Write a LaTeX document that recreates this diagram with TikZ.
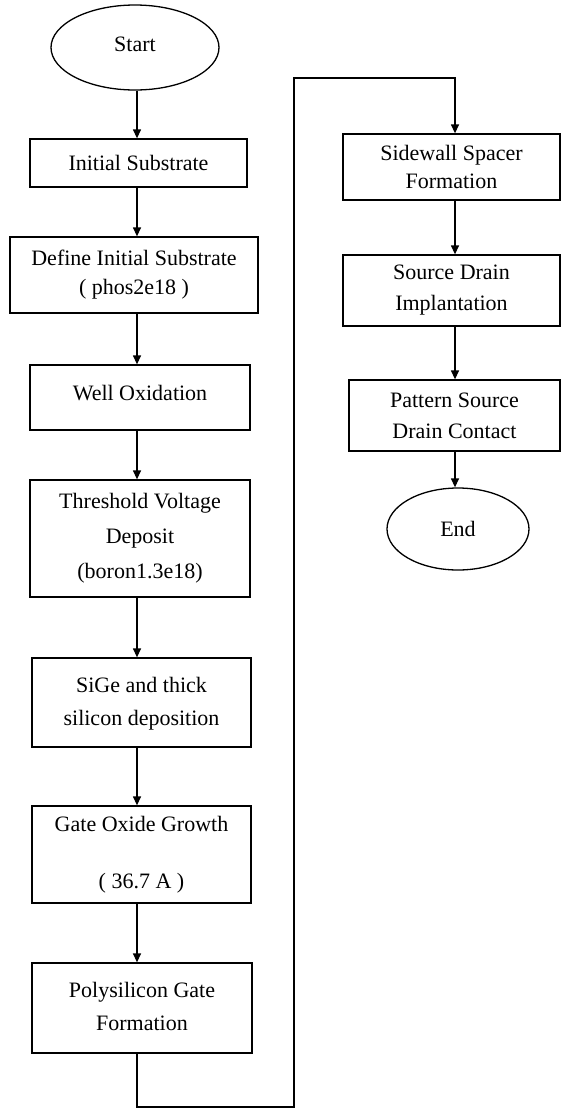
\documentclass[tikz,border=0pt]{standalone}
\usepackage{fontspec}
\setmainfont{Liberation Serif}
\usetikzlibrary{arrows.meta,shapes.geometric}
\begin{document}
\begin{tikzpicture}[x=1pt,y=-1pt,
  every node/.style={font=\fontsize{22}{31}\selectfont},
  stepbox/.style={draw, line width=1.3pt, rectangle, align=center, inner sep=0pt},
  terminal/.style={draw, line width=1.3pt, ellipse, inner sep=0pt},
  flow/.style={line width=1.3pt, -{Triangle[length=9pt,width=8pt]}},
  link/.style={line width=1.3pt}]
\useasboundingbox (0,0) rectangle (562,1109);
\fill[white] (0,0) rectangle (562,1109);

% arrow columns
\coordinate (colL) at (137,0);
\coordinate (colR) at (455,0);

% left column
\node[terminal, minimum width=168, minimum height=85] (start) at (135,47.5) {\raisebox{7pt}{Start}};
\node[stepbox, minimum width=217, minimum height=48] (init) at (138.5,163) {Initial Substrate};
\node[stepbox, minimum width=248, minimum height=76] (define) at (134,275) {Define Initial Substrate\\[-2pt]( phos2e18 )};
\node[stepbox, minimum width=220, minimum height=65] (well) at (140,397.5) {\raisebox{9.5pt}{Well Oxidation}};
\node[stepbox, minimum width=220, minimum height=117] (vt) at (140,538.5) {Threshold Voltage\\[4pt]Deposit\\[4pt](boron1.3e18)};
\node[stepbox, minimum width=219, minimum height=89] (sige) at (141.5,702.5) {\raisebox{4pt}{\begin{tabular}{@{}c@{}}SiGe and thick\\[2pt]silicon deposition\end{tabular}}};
\node[stepbox, minimum width=219, minimum height=97] (gox) at (141.5,854.5) {Gate Oxide Growth\\[26pt]( 36.7 A )};
\node[stepbox, minimum width=220, minimum height=90] (poly) at (142,1008) {\raisebox{4.5pt}{\begin{tabular}{@{}c@{}}Polysilicon Gate\\[2pt]Formation\end{tabular}}};

% right column
\node[stepbox, minimum width=217, minimum height=66] (side) at (451.5,167) {Sidewall Spacer\\[-3pt]Formation};
\node[stepbox, minimum width=217, minimum height=71] (sd) at (451.5,290.5) {Source Drain\\Implantation};
\node[stepbox, minimum width=211, minimum height=71] (contact) at (454.5,415.5) {Pattern Source\\Drain Contact};
\node[terminal, minimum width=142, minimum height=82] (finish) at (458,529) {End};

% turning points of the connector between the columns
\coordinate (loopB) at (137,1107);
\coordinate (loopR) at (294,1107);
\coordinate (loopT) at (294,78);

% connectors
\draw[flow] (start.south -| colL) -- (init.north -| colL);
\draw[flow] (init.south -| colL) -- (define.north -| colL);
\draw[flow] (define.south -| colL) -- (well.north -| colL);
\draw[flow] (well.south -| colL) -- (vt.north -| colL);
\draw[flow] (vt.south -| colL) -- (sige.north -| colL);
\draw[flow] (sige.south -| colL) -- (gox.north -| colL);
\draw[flow] (gox.south -| colL) -- (poly.north -| colL);
\draw[flow] (poly.south -| colL) -- (loopB) -- (loopR) -- (loopT) -| (side.north -| colR);
\draw[flow] (side.south -| colR) -- (sd.north -| colR);
\draw[flow] (sd.south -| colR) -- (contact.north -| colR);
\draw[flow] (contact.south -| colR) -- (finish.north -| colR);
\end{tikzpicture}
\end{document}
